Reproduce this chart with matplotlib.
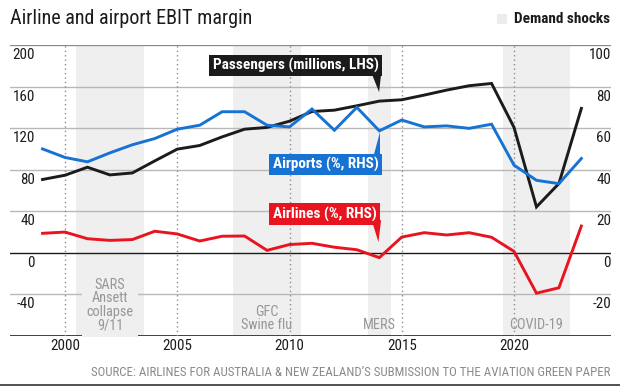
import matplotlib
matplotlib.use('Agg')
import matplotlib.pyplot as plt
from matplotlib import font_manager
from matplotlib.patches import Polygon

# pick a narrow-ish sans if one is around
installed = {f.name for f in font_manager.fontManager.ttflist}
FONT = next(f for f in ['Roboto Condensed', 'Liberation Sans Narrow', 'Roboto', 'DejaVu Sans'] if f in installed)
plt.rcParams['font.family'] = [FONT, 'DejaVu Sans']

# data
years = list(range(1999, 2024))
passengers = [70.6, 74.7, 82.4, 75.0, 76.9, 88.5, 99.8, 103.3, 111.6, 119.0, 120.7, 126.7,
              136.0, 137.3, 141.5, 146.0, 147.3, 151.8, 156.6, 160.8, 163.0, 120.7, 44.2, 66.7, 139.0]
airports = [50.0, 45.9, 43.8, 48.1, 52.0, 55.0, 59.5, 61.4, 67.9, 67.9, 61.4, 60.6,
            69.2, 59.0, 70.0, 58.7, 63.9, 60.6, 61.1, 59.9, 61.9, 42.2, 34.9, 33.3, 45.4]
airlines = [9.4, 10.0, 6.8, 6.0, 6.4, 10.4, 9.1, 5.7, 8.0, 8.1, 1.2, 4.0,
            4.6, 2.7, 1.5, -2.3, 7.6, 9.7, 8.6, 9.7, 7.5, 0.7, -19.4, -16.8, 12.9]

shock_spans = [(2000.5, 2003.5), (2007.5, 2010.5), (2013.5, 2014.5), (2019.5, 2022.5)]
shock_labels = ['SARS\nAnsett\ncollapse\n9/11', 'GFC\nSwine flu', 'MERS', 'COVID-19']

left_ticks = [200, 160, 120, 80, 40, 0, -40]
right_ticks = [100, 80, 60, 40, 20, 0, -20]
x_ticks = [2000, 2005, 2010, 2015, 2020]

BLACK = '#1b1b1b'
BLUE = '#1672d3'
RED = '#e8141f'
BAND = '#efefef'
GRID = '#b8b8b8'
MUTED = '#979797'

fig = plt.figure(figsize=(6.2, 3.87), dpi=100)
ax = fig.add_axes([10 / 620, 1 - 336 / 387, 601 / 620, 291 / 387])
ax2 = ax.twinx()

ax.set_xlim(1997.55, 2024.32)
ax.set_ylim(-80, 200)
ax2.set_ylim(-40, 100)

for a in (ax, ax2):
    for s in a.spines.values():
        s.set_visible(False)
    a.set_yticks([])
    a.tick_params(length=0)

# demand shock bands + labels (the 4-line one sits over the -40 grid line, so it gets a backing)
for (x0, x1), lab in zip(shock_spans, shock_labels):
    ax.axvspan(x0, x1, color=BAND, lw=0, zorder=0)
    backing = dict(boxstyle='square,pad=0.3', fc=BAND, ec='none') if lab.count('\n') > 2 else None
    ax.text((x0 + x1) / 2, -76.5, lab, ha='center', va='bottom', fontsize=10.3,
            color=MUTED, linespacing=0.96, zorder=2, bbox=backing)

# grid
for v in left_ticks:
    ax.axhline(v, color=BLACK if v == 0 else GRID, lw=1, zorder=1)
ax.axhline(200, color='#8a8a8a', lw=1.5, zorder=1)
ax.axhline(-80, color='#333333', lw=1.3, zorder=1)
for x in x_ticks:
    ax.axvline(x, color='#8c8c8c', lw=1, ls=(0, (1, 2.2)), zorder=1)

# labels for the y scales, tucked under each grid line
for v in left_ticks:
    ax.annotate(str(v), xy=(0, v), xycoords=('axes fraction', 'data'), xytext=(25, -10),
                textcoords='offset pixels', ha='right', va='center', fontsize=10.8, color=BLACK)
for v in right_ticks:
    ax2.annotate(str(v), xy=(1, v), xycoords=('axes fraction', 'data'), xytext=(0, -10),
                 textcoords='offset pixels', ha='right', va='center', fontsize=10.8, color=BLACK)

ax.set_xticks(x_ticks)
ax.set_xticklabels([str(x) for x in x_ticks], fontsize=10.8, color=BLACK)
ax.tick_params(axis='x', pad=2.5)

# series
ax.plot(years, passengers, color=BLACK, lw=2.1, zorder=3, solid_joinstyle='miter')
ax2.plot(years, airports, color=BLUE, lw=2.1, zorder=3, solid_joinstyle='miter')
ax2.plot(years, airlines, color=RED, lw=2.1, zorder=3, solid_joinstyle='miter')


def callout(a, text, xy, color, tail):
    a.text(xy[0], xy[1], text, ha='center', va='center', fontsize=11, fontweight='bold',
           color='white', zorder=6,
           bbox=dict(boxstyle='square,pad=0.22', fc=color, ec='none'))
    a.add_patch(Polygon(tail, closed=True, fc=color, ec='none', zorder=5))


callout(ax, 'Passengers (millions, LHS)', (2010.27, 180.4), BLACK,
        [(2013.67, 172), (2014.08, 172), (2013.99, 154.7)])
callout(ax2, 'Airports (%, RHS)', (2011.6, 42.5), BLUE,
        [(2013.72, 45.5), (2014.03, 45.5), (2014.03, 58.1)])
callout(ax2, 'Airlines (%, RHS)', (2011.56, 18.65), RED,
        [(2013.66, 15.7), (2014.08, 15.7), (2013.96, 5.2)])

# header / footer
fig.text(10 / 620, 1 - 18 / 387, 'Airline and airport EBIT margin', ha='left', va='center',
         fontsize=14.5, color=BLACK)
fig.patches.append(plt.Rectangle((497 / 620, 1 - 24 / 387), 10 / 620, 10 / 387,
                                 transform=fig.transFigure, fc='#ececec', ec='none'))
fig.text(610 / 620, 1 - 19 / 387, 'Demand shocks', ha='right', va='center',
         fontsize=11, fontweight='bold', color=BLACK)
fig.text(610 / 620, 1 - 372 / 387,
         "SOURCE: AIRLINES FOR AUSTRALIA & NEW ZEALAND\u2019S SUBMISSION TO THE AVIATION GREEN PAPER",
         ha='right', va='center', fontsize=9.3, color='#8a8a8a')
fig.add_artist(plt.Line2D([0, 1], [1 - 385 / 387] * 2, color='#333333', lw=1.2))

fig.savefig('out.png', dpi=100)
